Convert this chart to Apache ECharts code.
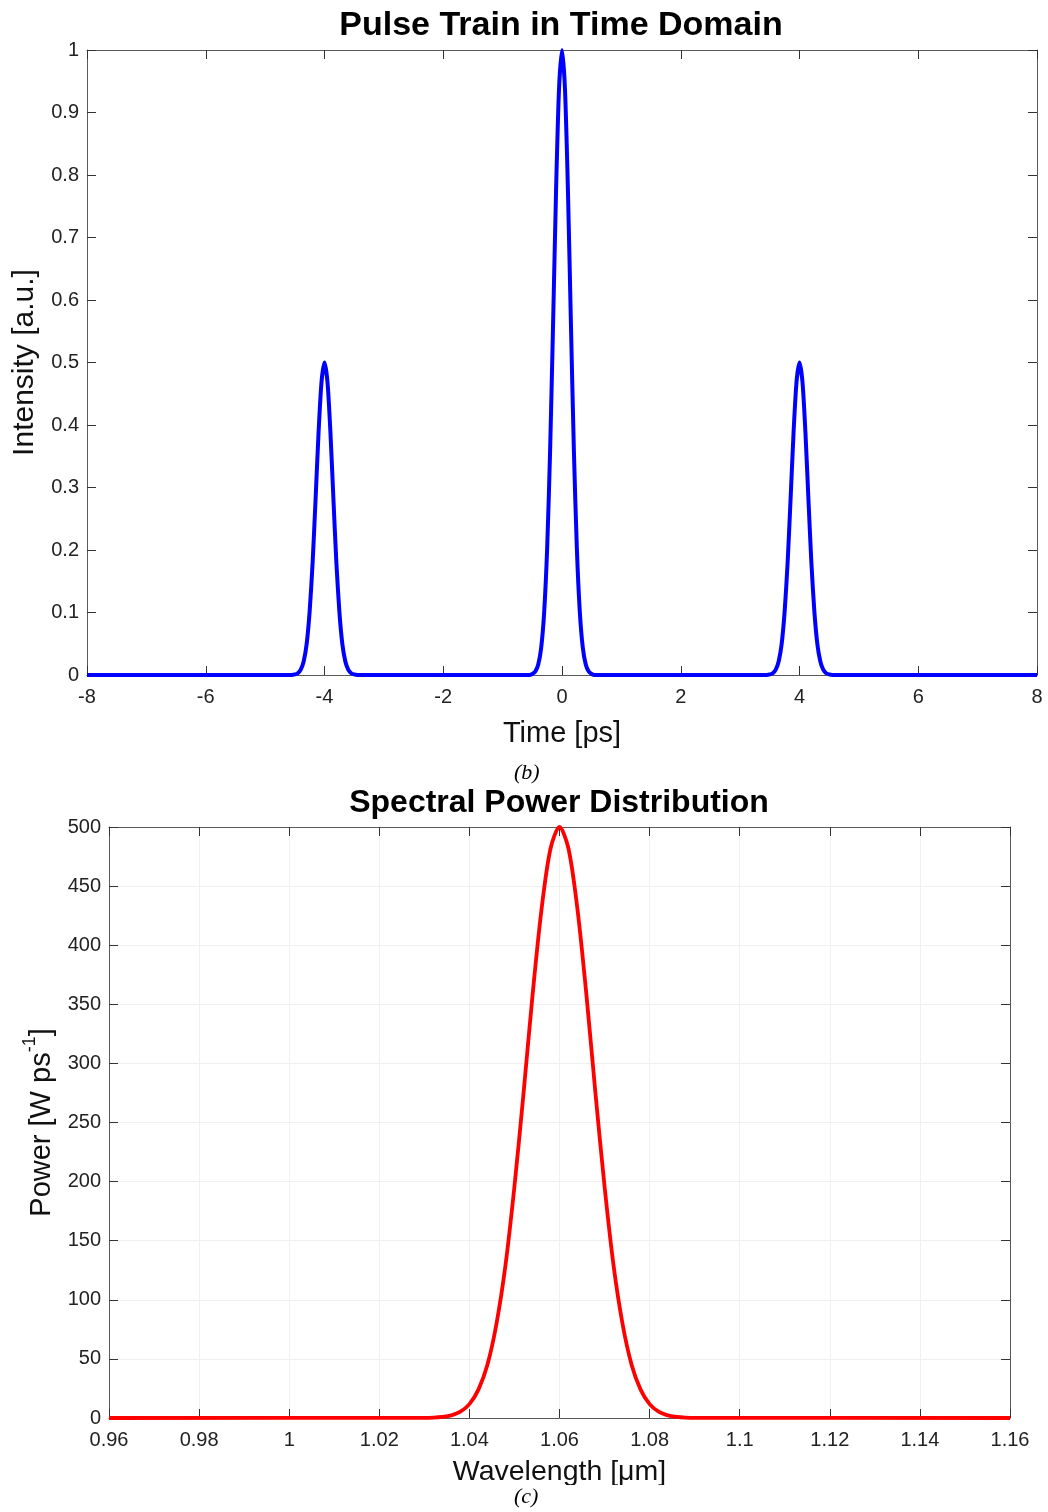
<!DOCTYPE html>
<html>
<head>
<meta charset="utf-8">
<script src="https://cdn.jsdelivr.net/npm/echarts@6/dist/echarts.min.js"></script>
<style>html,body{margin:0;padding:0;background:#fff}#c{width:1048px;height:1512px}</style>
</head>
<body>
<div id="c"></div>
<script>
// ---- Pulse train (top) ----
var timePs = [-8,
  -4.55,-4.5,-4.45,-4.4,-4.35,-4.3,-4.25,-4.2,-4.15,-4.1,-4.05,-4,-3.95,-3.9,-3.85,-3.8,-3.75,-3.7,-3.65,-3.6,-3.55,-3.5,-3.45,
  -0.55,-0.5,-0.45,-0.4,-0.35,-0.3,-0.25,-0.2,-0.15,-0.1,-0.05,0,0.05,0.1,0.15,0.2,0.25,0.3,0.35,0.4,0.45,0.5,0.55,
  3.45,3.5,3.55,3.6,3.65,3.7,3.75,3.8,3.85,3.9,3.95,4,4.05,4.1,4.15,4.2,4.25,4.3,4.35,4.4,4.45,4.5,4.55,
  8];
var intensity = [0,
  0,0.0009,0.0029,0.0085,0.022,0.050,0.102,0.180,0.282,0.388,0.469,0.5,0.469,0.388,0.282,0.180,0.102,0.050,0.022,0.0085,0.0029,0.0009,0,
  0,0.0017,0.0057,0.0169,0.044,0.101,0.203,0.360,0.563,0.775,0.938,1,0.938,0.775,0.563,0.360,0.203,0.101,0.044,0.0169,0.0057,0.0017,0,
  0,0.0009,0.0029,0.0085,0.022,0.050,0.102,0.180,0.282,0.388,0.469,0.5,0.469,0.388,0.282,0.180,0.102,0.050,0.022,0.0085,0.0029,0.0009,0,
  0];
// ---- Spectrum (bottom) ----
var wavelengthUm = [0.96,1.03,1.032,1.034,1.036,1.038,1.04,1.042,1.044,1.046,1.048,1.05,1.052,1.054,1.056,1.058,1.06,
  1.062,1.064,1.066,1.068,1.07,1.072,1.074,1.076,1.078,1.08,1.082,1.084,1.086,1.088,1.09,1.16];
var powerW = [0,0.1,0.3,0.9,2.2,5.3,11.7,24,45,79.5,129,196,274,357,430,481.6,500,
  481.6,430,357,274,196,129,79.5,45,24,11.7,5.3,2.2,0.9,0.3,0.1,0];

var titles = ['Pulse Train in Time Domain','Spectral Power Distribution'];
var captions = ['(b)','(c)'];

function pairs(xs, ys){ var o=[]; for(var i=0;i<xs.length;i++) o.push([xs[i],ys[i]]); return o; }

var FONT = '"Liberation Sans", Arial, Helvetica, sans-serif';
var AX = '#5a5a5a', TK = '#333';
function fmt(v){ return String(Number(v.toFixed(4))); }

function mkAxis(gridIndex, type, opts, primary, pos){
  var a = {
    type:'value', gridIndex:gridIndex, position:pos,
    axisLine:{show:true, onZero:false, lineStyle:{color:AX, width:1}},
    axisTick:{show:true, inside:true, length:9, lineStyle:{color:TK, width:1}},
    axisLabel:{show:primary, color:'#222', fontFamily:FONT, fontSize:20, margin:primary? (type==='x'?12:8):0, formatter:fmt},
    splitLine:{show:false}
  };
  for (var k in opts) a[k]=opts[k];
  return a;
}

var chart = echarts.init(document.getElementById('c'), null, {renderer:'canvas'});
var option = {
  backgroundColor:'#fff',
  animation:false,
  title:[
    {text:titles[0], left:556, top:4, textAlign:'center', textStyle:{fontFamily:FONT, fontSize:34, fontWeight:'bold', color:'#000'}},
    {text:titles[1], left:554, top:782, textAlign:'center', textStyle:{fontFamily:FONT, fontSize:32, fontWeight:'bold', color:'#000'}}
  ],
  grid:[
    {left:87, right:11, top:50, height:625},
    {left:109, right:38, top:827, height:591}
  ],
  xAxis:[
    mkAxis(0,'x',{min:-8,max:8,interval:2,name:'Time [ps]',nameLocation:'middle',nameGap:44,
      nameTextStyle:{fontFamily:FONT,fontSize:29,color:'#111'}},true,'bottom'),
    mkAxis(0,'x',{min:-8,max:8,interval:2},false,'top'),
    mkAxis(1,'x',{min:0.96,max:1.16,interval:0.02,name:'Wavelength [\u03bcm]',nameLocation:'middle',nameGap:40,
      nameTextStyle:{fontFamily:FONT,fontSize:28.5,color:'#111'},
      splitLine:{show:true,lineStyle:{color:'#f0f0f0',width:1}}},true,'bottom'),
    mkAxis(1,'x',{min:0.96,max:1.16,interval:0.02},false,'top')
  ],
  yAxis:[
    mkAxis(0,'y',{min:0,max:1,interval:0.1,name:'Intensity [a.u.]',nameLocation:'middle',nameGap:47,
      nameTextStyle:{fontFamily:FONT,fontSize:30,color:'#111'}},true,'left'),
    mkAxis(0,'y',{min:0,max:1,interval:0.1},false,'right'),
    mkAxis(1,'y',{min:0,max:500,interval:50,name:'{m|Power [W ps}{s|-1}{m|]}',nameLocation:'middle',nameGap:46,
      nameTextStyle:{fontFamily:FONT,fontSize:29,color:'#111',
        rich:{m:{fontFamily:FONT,fontSize:29,color:'#111',lineHeight:36,verticalAlign:'bottom'},
              s:{fontFamily:FONT,fontSize:18,color:'#111',lineHeight:36,verticalAlign:'top'}}},
      splitLine:{show:true,lineStyle:{color:'#f0f0f0',width:1}}},true,'left'),
    mkAxis(1,'y',{min:0,max:500,interval:50},false,'right')
  ],
  series:[
    {type:'line', xAxisIndex:0, yAxisIndex:0, data:pairs(timePs,intensity), showSymbol:false, smooth:0.25,
      lineStyle:{color:'#0000ff', width:4}, itemStyle:{color:'#0000ff'}, z:5},
    {type:'line', xAxisIndex:2, yAxisIndex:2, data:pairs(wavelengthUm,powerW), showSymbol:false, smooth:0.3,
      lineStyle:{color:'#ff0000', width:3.8}, itemStyle:{color:'#ff0000'}, z:5}
  ],
  graphic:[
    {type:'text', left:514, top:762, z:100, style:{text:captions[0], font:'italic 22px "Liberation Serif", "Times New Roman", serif', fill:'#000'}},
    {type:'rect', left:420, top:1485, z:99, shape:{width:280, height:27}, style:{fill:'#fff'}},
    {type:'text', left:514, top:1486, z:100, style:{text:captions[1], font:'italic 22px "Liberation Serif", "Times New Roman", serif', fill:'#000'}}
  ]
};
chart.setOption(option);
</script>
</body>
</html>
